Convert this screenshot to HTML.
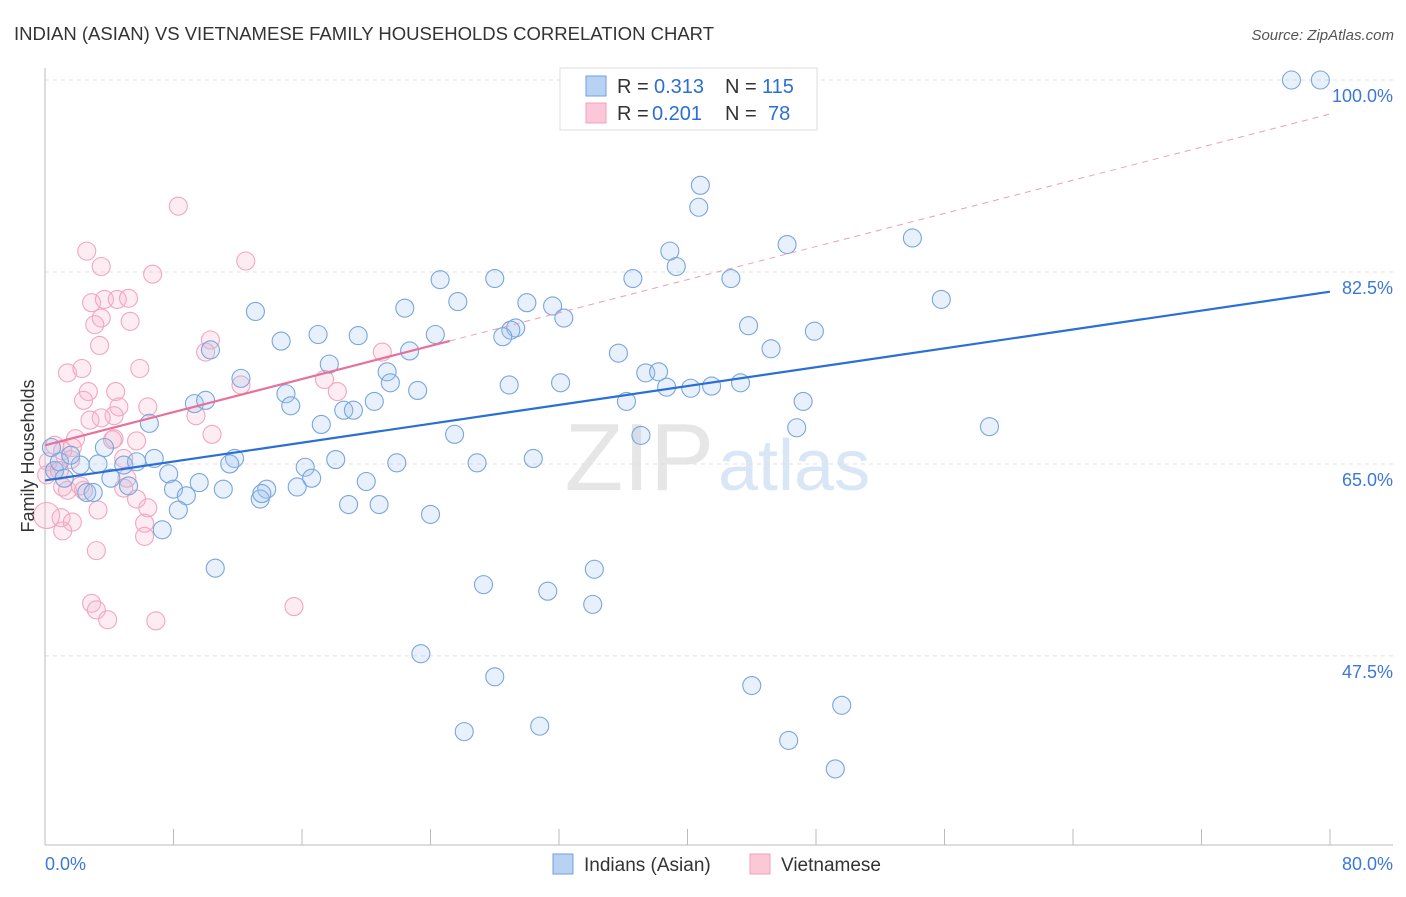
<!DOCTYPE html>
<html><head><meta charset="utf-8"><style>
body{margin:0;background:#fff;font-family:"Liberation Sans",sans-serif}
svg text{font-family:"Liberation Sans",sans-serif}
</style></head><body>
<svg width="1406" height="892" xmlns="http://www.w3.org/2000/svg">
<text x="14" y="40" font-size="18" fill="#333" textLength="700" lengthAdjust="spacingAndGlyphs">INDIAN (ASIAN) VS VIETNAMESE FAMILY HOUSEHOLDS CORRELATION CHART</text>
<text x="1394" y="40" font-size="15" fill="#555" font-style="italic" text-anchor="end">Source: ZipAtlas.com</text>
<text x="714" y="490" font-size="96" fill="#e6e6e6" text-anchor="end" font-family="Liberation Serif">ZIP</text>
<text x="718" y="490" font-size="72" fill="#d8e6f5">atlas</text>
<g id="grid"></g><g id="axes"></g><g id="pts"></g><g id="lines"></g>
<text transform="translate(34,456) rotate(-90)" font-size="18" fill="#333" text-anchor="middle">Family Households</text>
<text x="45" y="870" font-size="18" fill="#3b78d8">0.0%</text>
<text x="1393" y="870" font-size="18" fill="#3b78d8" text-anchor="end">80.0%</text>
<g>
<rect x="560" y="68" width="257" height="62" fill="#fff" stroke="#ddd"/>
<rect x="586" y="76" width="20" height="20" fill="#b8d2f4" stroke="#6fa0dc"/>
<rect x="586" y="103" width="20" height="20" fill="#fbc8d8" stroke="#f0a0bc"/>
<text x="617" y="93" font-size="20" fill="#333">R =</text>
<text x="654" y="93" font-size="20" fill="#2a6fd6">0.313</text>
<text x="725" y="93" font-size="20" fill="#333">N =</text>
<text x="762" y="93" font-size="20" fill="#2a6fd6">115</text>
<text x="617" y="120" font-size="20" fill="#333">R =</text>
<text x="652" y="120" font-size="20" fill="#2a6fd6">0.201</text>
<text x="725" y="120" font-size="20" fill="#333">N =</text>
<text x="768" y="120" font-size="20" fill="#2a6fd6">78</text>
</g>
<g>
<rect x="553" y="854" width="20" height="20" fill="#b8d2f4" stroke="#6fa0dc"/>
<text x="584" y="871" font-size="19" fill="#333">Indians (Asian)</text>
<rect x="750" y="854" width="20" height="20" fill="#fbc8d8" stroke="#f0a0bc"/>
<text x="781" y="871" font-size="19" fill="#333">Vietnamese</text>
</g>
</svg>
<script>
const yTicks=[100,82.5,65,47.5];
const yTickLabels=["100.0%","82.5%","65.0%","47.5%"];
const xTicks=[0,8,16,24,32,40,48,56,64,72,80];
const blueX=[77.6,79.4,40.8,40.7,54.0,46.2,38.9,39.3,28.0,24.6,36.6,42.7,55.8,25.7,30.0,31.6,32.3,22.4,13.1,43.8,47.9,17.0,19.5,24.3,29.3,29.0,28.5,14.7,22.7,10.3,35.7,45.2,17.7,21.3,37.4,38.2,12.2,21.5,23.2,28.9,32.1,38.7,40.2,41.5,43.3,15.0,9.3,10.0,20.5,36.2,47.2,15.3,18.6,19.2,17.2,6.5,46.8,58.8,25.5,37.1,6.8,11.8,18.1,30.4,16.2,21.9,26.9,11.5,3.3,2.2,4.9,5.7,0.4,3.7,7.7,16.6,9.6,13.8,8.0,4.1,15.7,20.0,8.8,11.1,13.4,13.5,2.6,3.0,5.2,8.3,18.9,20.8,24.0,7.3,10.6,34.2,27.3,31.3,34.1,23.4,28.0,44.0,49.6,26.1,30.8,46.3,49.2,0.6,0.9,1.2,1.6];
const blueY=[100,100,90.4,88.4,85.6,85.0,84.4,83.0,81.9,81.8,81.9,81.9,80.0,79.8,79.7,79.4,78.3,79.2,78.9,77.6,77.1,76.8,76.7,76.8,77.4,77.2,76.6,76.2,75.3,75.4,75.1,75.5,74.1,73.4,73.3,73.4,72.8,72.4,71.7,72.2,72.4,72.0,71.9,72.1,72.4,71.4,70.5,70.8,70.7,70.7,70.7,70.3,69.9,69.9,68.6,68.7,68.3,68.4,67.7,67.6,65.5,65.5,65.4,65.5,64.7,65.1,65.1,65.0,65.0,64.9,64.9,65.2,66.5,66.5,64.1,63.7,63.3,62.7,62.7,63.7,62.9,63.4,62.1,62.7,61.8,62.3,62.4,62.4,63.0,60.8,61.3,61.3,60.4,59.0,55.5,55.4,54.0,53.4,52.2,47.7,45.6,44.8,43.0,40.6,41.1,39.8,37.2,64.4,65.2,63.7,65.8];
const pinkX=[8.3,12.5,2.6,3.5,6.7,2.9,3.7,4.5,5.2,3.5,5.3,3.1,3.4,10.3,10.0,21.0,5.9,1.4,2.3,12.2,2.7,4.4,18.2,17.4,2.4,6.4,4.6,4.3,9.4,3.5,10.4,5.7,4.3,1.9,1.7,0.6,1.1,4.9,0.2,0.6,0.1,0.9,5.1,4.9,1.4,2.4,5.7,6.4,3.3,6.2,1.0,1.7,1.1,6.2,3.2,2.9,3.2,3.9,6.9,15.5,0.1,1.1,2.2,4.2,2.8,1.6];
const pinkY=[88.5,83.5,84.4,83.0,82.3,79.7,80.0,80.0,80.1,78.3,78.0,77.7,75.8,76.3,75.2,75.2,73.7,73.3,73.7,72.2,71.6,71.6,71.6,72.7,70.8,70.2,70.2,69.4,69.4,69.2,67.7,67.1,67.3,67.3,66.5,66.7,66.2,65.5,65.2,64.4,64.0,64.4,63.7,62.8,62.6,62.6,61.8,61.0,60.8,59.6,60.1,59.7,58.9,58.4,57.1,52.3,51.7,50.8,50.7,52.0,60.3,62.9,63.0,67.2,69.0,65.4];
const blueTrend=[63.5,80.7];
const pinkTrend=[66.7,96.9];
const pinkSolidEnd=25.2;
const NS="http://www.w3.org/2000/svg";
const xs=v=>45+v/80*1285;
const ys=v=>80+(100-v)*10.97;
function mk(tag,attrs,parent){const e=document.createElementNS(NS,tag);for(const k in attrs)e.setAttribute(k,attrs[k]);document.getElementById(parent).appendChild(e);return e;}
yTicks.forEach((t,i)=>{
  const l=mk('line',{x1:45,x2:1393,y1:ys(t),y2:ys(t),stroke:'#e0e0e0','stroke-dasharray':'4,4'},'grid');
  
  
  const tx=mk('text',{x:1393,y:ys(t)+22,'font-size':18,fill:'#3b78d8','text-anchor':'end'},'grid');
  tx.textContent=yTickLabels[i];
  
  
});
let a=mk('line',{x1:45,x2:45,y1:68,y2:845,stroke:'#bbb'},'axes');


a=mk('line',{x1:45,x2:1393,y1:845,y2:845,stroke:'#bbb'},'axes');


xTicks.forEach(t=>{
  const l=mk('line',{x1:xs(t),x2:xs(t),y1:829,y2:845,stroke:'#bbb'},'axes');
  
  
});
pinkX.forEach((x,i)=>{
  const c=mk('circle',{cx:xs(x),cy:ys(pinkY[i]),r:(x<0.3&&pinkY[i]<61)?13:9,fill:'rgba(248,180,205,0.25)',stroke:'#f2a6c0','stroke-width':1.1},'pts');
  
  
});
blueX.forEach((x,i)=>{
  const c=mk('circle',{cx:xs(x),cy:ys(blueY[i]),r:9,fill:'rgba(160,196,240,0.25)',stroke:'#78a6de','stroke-width':1.1},'pts');
  
  
});
let t=mk('line',{x1:xs(0),y1:ys(blueTrend[0]),x2:xs(80),y2:ys(blueTrend[1]),stroke:'#2a6fd6','stroke-width':2.2},'lines');


const py=x=>pinkTrend[0]+(pinkTrend[1]-pinkTrend[0])*x/80;
t=mk('line',{x1:xs(pinkSolidEnd),y1:ys(py(pinkSolidEnd)),x2:xs(80),y2:ys(pinkTrend[1]),stroke:'#eaa0b8','stroke-width':1,'stroke-dasharray':'6,5'},'lines');


t=mk('line',{x1:xs(0),y1:ys(pinkTrend[0]),x2:xs(pinkSolidEnd),y2:ys(py(pinkSolidEnd)),stroke:'#e8709a','stroke-width':2.2},'lines');


</script>
</body></html>
